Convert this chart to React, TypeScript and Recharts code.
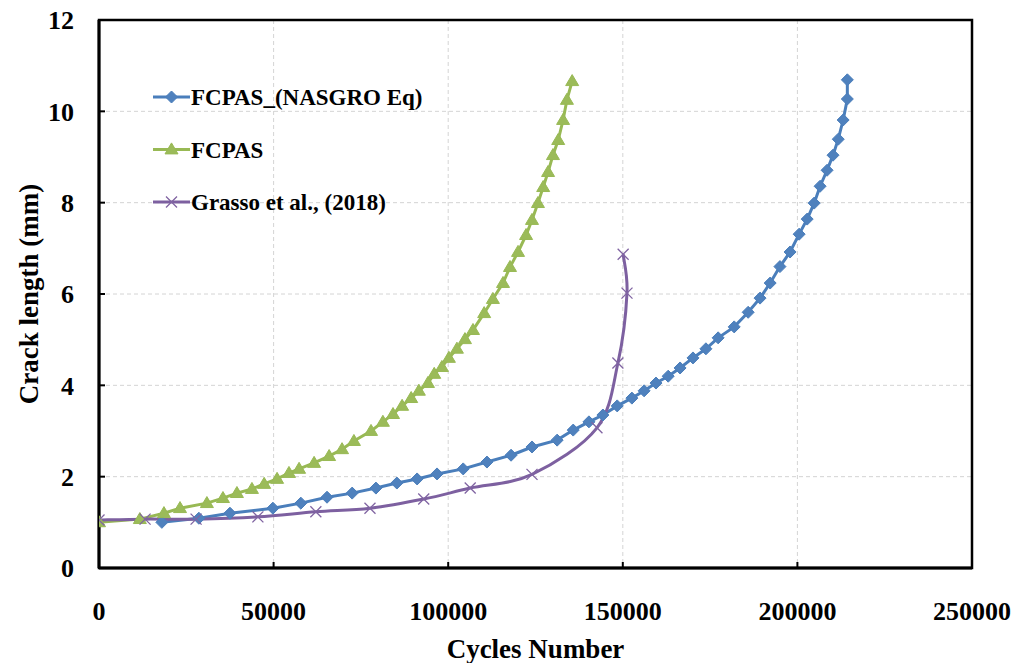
import React from 'react';
import {
  LineChart, Line, XAxis, YAxis, CartesianGrid, ReferenceArea, Label,
} from 'recharts';

// FCPAS_(NASGRO Eq)
const nasgroX = [18000, 28600, 37500, 49800, 57800, 65300, 72500, 79300, 85300, 91100, 96800, 104300, 111100, 118000, 124000, 131200, 135800, 140300, 144300, 148400, 152600, 156100, 159500, 163000, 166400, 170100, 173800, 177300, 181900, 185900, 189300, 192200, 195000, 197900, 200500, 202800, 204800, 206500, 208500, 210200, 211700, 213100, 214300, 214300];
const nasgroY = [1.0, 1.09, 1.2, 1.31, 1.42, 1.55, 1.64, 1.75, 1.86, 1.95, 2.06, 2.17, 2.32, 2.47, 2.65, 2.8, 3.02, 3.2, 3.35, 3.55, 3.72, 3.88, 4.05, 4.2, 4.38, 4.6, 4.8, 5.04, 5.28, 5.6, 5.91, 6.24, 6.6, 6.92, 7.31, 7.64, 7.99, 8.36, 8.71, 9.04, 9.39, 9.81, 10.27, 10.69];

// FCPAS
const fcpasX = [0, 11700, 18600, 23200, 30900, 35500, 39500, 43800, 47300, 51000, 54400, 57300, 61600, 65900, 69600, 73000, 77900, 81300, 84200, 86800, 89400, 91600, 94200, 96000, 98200, 100200, 102500, 104800, 107100, 110300, 112800, 115700, 117700, 120000, 122300, 124000, 125700, 127200, 128600, 130000, 131500, 132900, 134000, 135500];
const fcpasY = [1.0, 1.07, 1.2, 1.31, 1.42, 1.53, 1.64, 1.73, 1.84, 1.95, 2.08, 2.17, 2.3, 2.45, 2.6, 2.78, 3.0, 3.2, 3.37, 3.55, 3.72, 3.88, 4.05, 4.25, 4.4, 4.6, 4.8, 5.01, 5.21, 5.58, 5.89, 6.24, 6.59, 6.92, 7.29, 7.62, 7.99, 8.34, 8.67, 9.04, 9.37, 9.81, 10.25, 10.66];

// Grasso et al., (2018)
const grassoX = [0, 13200, 27800, 45500, 62100, 77600, 93000, 106300, 124000, 142600, 148600, 151200, 150100];
const grassoY = [1.05, 1.07, 1.07, 1.12, 1.23, 1.31, 1.51, 1.75, 2.05, 3.07, 4.49, 6.02, 6.87];

const xTicks = [0, 50000, 100000, 150000, 200000, 250000];
const yTicks = [0, 2, 4, 6, 8, 10, 12];

const seriesNames = ['FCPAS_(NASGRO Eq)', 'FCPAS', 'Grasso et al., (2018)'];

const toRows = (xs: number[], ys: number[]) => xs.map((x, i) => ({ x, y: ys[i] }));
const nasgroData = toRows(nasgroX, nasgroY);
const fcpasData = toRows(fcpasX, fcpasY);
const grassoData = toRows(grassoX, grassoY);

const BLUE = '#4A7EBB';
const BLUE_FILL = '#4F81BD';
const GREEN = '#98B954';
const GREEN_FILL = '#9BBB59';
const PURPLE = '#7D60A0';
const PURPLE_M = '#8064A2';
const FONT = '"Liberation Serif", "Times New Roman", serif';

// Excel-like smoothing curve (Catmull-Rom style bezier)
function excelSmooth(context: any) {
  let pts: number[][] = [];
  return {
    areaStart() {},
    areaEnd() {},
    lineStart() { pts = []; },
    point(x: number, y: number) { pts.push([+x, +y]); },
    lineEnd() {
      const n = pts.length;
      if (!n) return;
      context.moveTo(pts[0][0], pts[0][1]);
      for (let i = 0; i < n - 1; i++) {
        const p0 = pts[Math.max(i - 1, 0)];
        const p1 = pts[i];
        const p2 = pts[i + 1];
        const p3 = pts[Math.min(i + 2, n - 1)];
        context.bezierCurveTo(
          p1[0] + (p2[0] - p0[0]) / 6, p1[1] + (p2[1] - p0[1]) / 6,
          p2[0] - (p3[0] - p1[0]) / 6, p2[1] - (p3[1] - p1[1]) / 6,
          p2[0], p2[1],
        );
      }
    },
  };
}

const Diamond = (props: any) => {
  const { cx, cy, index } = props;
  if (cx == null || cy == null) return <g key={`d${index}`} />;
  const r = 6;
  return (
    <polygon key={`d${index}`} points={`${cx},${cy - r} ${cx + r},${cy} ${cx},${cy + r} ${cx - r},${cy}`}
      fill={BLUE_FILL} stroke={BLUE} strokeWidth={1} />
  );
};

const Triangle = (props: any) => {
  const { cx, cy, index } = props;
  if (cx == null || cy == null) return <g key={`t${index}`} />;
  const w = 6.5;
  const h = 11;
  return (
    <polygon key={`t${index}`} points={`${cx},${cy - h * 0.6} ${cx + w},${cy + h * 0.4} ${cx - w},${cy + h * 0.4}`}
      fill={GREEN_FILL} stroke={GREEN} strokeWidth={1} />
  );
};

const Cross = (props: any) => {
  const { cx, cy, index } = props;
  if (cx == null || cy == null) return <g key={`c${index}`} />;
  const r = 5.5;
  return (
    <path key={`c${index}`} d={`M${cx - r},${cy - r}L${cx + r},${cy + r}M${cx - r},${cy + r}L${cx + r},${cy - r}`}
      stroke={PURPLE_M} strokeWidth={1.3} fill="none" />
  );
};

const LegendBox = () => {
  const rows = [
    { name: seriesNames[0], color: BLUE, marker: 'd' },
    { name: seriesNames[1], color: GREEN, marker: 't' },
    { name: seriesNames[2], color: PURPLE, marker: 'x' },
  ];
  return (
    <svg width={320} height={140} style={{ position: 'absolute', left: 153, top: 89, overflow: 'visible' }}>
      {rows.map((r, i) => {
        const y = 8 + i * 52.5;
        return (
          <g key={r.name}>
            <line x1={0} x2={37} y1={y} y2={y} stroke={r.color} strokeWidth={3} />
            {r.marker === 'd' && <Diamond cx={18.5} cy={y} index={0} />}
            {r.marker === 't' && <Triangle cx={18.5} cy={y} index={0} />}
            {r.marker === 'x' && <Cross cx={18.5} cy={y} index={0} />}
            <text x={38} y={y + 8} fontFamily={FONT} fontWeight="bold" fontSize={23} fill="#000">{r.name}</text>
          </g>
        );
      })}
    </svg>
  );
};

export default function App() {
  return (
    <div style={{ width: 1016, height: 663, background: '#fff', position: 'relative', overflow: 'hidden' }}>
      <style>{'body{margin:0;}'}</style>
      <LineChart
        width={1016}
        height={663}
        margin={{ top: 20, right: 44, left: 0, bottom: 35 }}
      >
        <CartesianGrid stroke="#d4d4d4" strokeDasharray="4 3" strokeWidth={1} />
        <XAxis
          type="number"
          dataKey="x"
          domain={[0, 250000]}
          ticks={xTicks}
          allowDataOverflow
          height={60}
          axisLine={{ stroke: '#000', strokeWidth: 3 }}
          tickLine={{ stroke: '#000', strokeWidth: 2 }}
          tickSize={-6}
          tickMargin={40}
          tick={{ fontFamily: FONT, fontWeight: 'bold', fontSize: 26, fill: '#000' }}
        >
          <Label value="Cycles Number" position="insideBottom" offset={-30}
            style={{ fontFamily: FONT, fontWeight: 'bold', fontSize: 27, fill: '#000' }} />
        </XAxis>
        <YAxis
          type="number"
          dataKey="y"
          domain={[0, 12]}
          ticks={yTicks}
          allowDataOverflow
          width={99}
          axisLine={{ stroke: '#000', strokeWidth: 3 }}
          tickLine={{ stroke: '#000', strokeWidth: 2 }}
          tickSize={-6}
          tickMargin={31}
          tick={{ fontFamily: FONT, fontWeight: 'bold', fontSize: 26, fill: '#000' }}
        >
          <Label value="Crack length (mm)" angle={-90} position="center" dx={-21}
            style={{ fontFamily: FONT, fontWeight: 'bold', fontSize: 27, fill: '#000', textAnchor: 'middle' }} />
        </YAxis>
        <ReferenceArea x1={0} x2={250000} y1={0} y2={12} fill="none" stroke="#000" strokeWidth={2.5} ifOverflow="visible" />
        <Line data={nasgroData} dataKey="y" name={seriesNames[0]} stroke={BLUE} strokeWidth={3}
          type="linear" dot={Diamond} activeDot={false} isAnimationActive={false} />
        <Line data={fcpasData} dataKey="y" name={seriesNames[1]} stroke={GREEN} strokeWidth={3}
          type="linear" dot={Triangle} activeDot={false} isAnimationActive={false} />
        <Line data={grassoData} dataKey="y" name={seriesNames[2]} stroke={PURPLE} strokeWidth={3}
          type={excelSmooth as any} dot={Cross} activeDot={false} isAnimationActive={false} />
      </LineChart>
      <LegendBox />
    </div>
  );
}
